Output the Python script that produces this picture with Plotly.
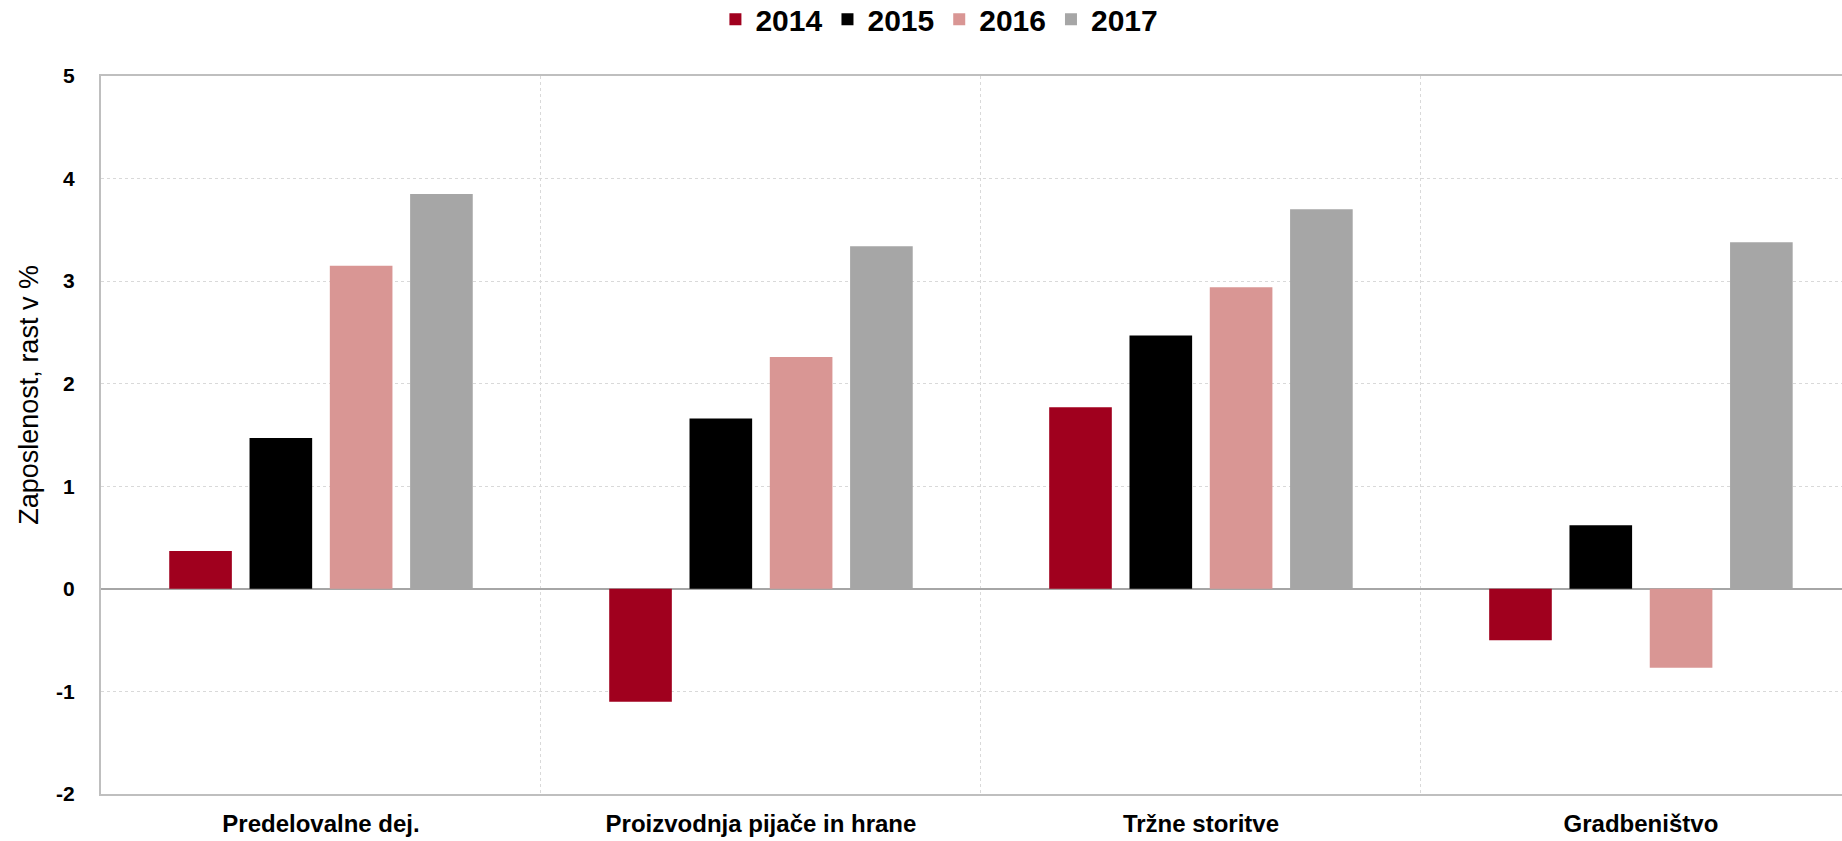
import plotly.graph_objects as go

categories = ["Predelovalne dej.", "Proizvodnja pijače in hrane", "Tržne storitve", "Gradbeništvo"]
years = ["2014", "2015", "2016", "2017"]
v2014 = [0.37, -1.10, 1.77, -0.50]
v2015 = [1.47, 1.66, 2.47, 0.62]
v2016 = [3.15, 2.26, 2.94, -0.77]
v2017 = [3.85, 3.34, 3.70, 3.38]
y_ticks = [-2, -1, 0, 1, 2, 3, 4, 5]
y_title = "Zaposlenost, rast v %"

series = [v2014, v2015, v2016, v2017]
colors = ["#A0001E", "#000000", "#D99694", "#A6A6A6"]

fig = go.Figure()
for name, vals, c in zip(years, series, colors):
    fig.add_trace(go.Bar(x=categories, y=vals, name=name, marker=dict(color=c, line=dict(width=0))))

fig.update_layout(
    width=1842, height=841,
    margin=dict(l=101, r=0, t=76, b=47, autoexpand=False),
    paper_bgcolor="white", plot_bgcolor="white",
    barmode="group", bargap=0.27, bargroupgap=0.22,
    font=dict(family="Liberation Sans, Arial", color="#000000"),
    legend=dict(orientation="h", xref="container", yref="container",
                x=0.51, xanchor="center", y=0.977, yanchor="middle",
                font=dict(size=30, family="Liberation Sans, Arial", weight="bold"),
                itemwidth=30, tracegroupgap=0, traceorder="normal",
                bgcolor="rgba(0,0,0,0)"),
    showlegend=True,
    annotations=[dict(text=y_title, textangle=-90, xref="paper", yref="paper",
                      x=-0.0414, y=0.556, xanchor="center", yanchor="middle",
                      showarrow=False, font=dict(size=27, color="#000"))],
)
fig.update_xaxes(
    type="category", tickson="boundaries", range=[-0.5, 3.457], automargin=False,
    showgrid=True, gridcolor="#D9D9D9", griddash="dot", gridwidth=1,
    showline=True, linecolor="#BFBFBF", linewidth=2, mirror=True,
    ticks="", tickfont=dict(size=24, color="#000", weight="bold"),
    ticklabelstandoff=7,
)
fig.update_yaxes(
    range=[-2, 5], tickvals=y_ticks, ticktext=[str(t) for t in y_ticks], automargin=False,
    showgrid=True, gridcolor="#D9D9D9", griddash="dot", gridwidth=1,
    zeroline=True, zerolinecolor="#A6A6A6", zerolinewidth=2,
    showline=True, linecolor="#BFBFBF", linewidth=2, mirror=True,
    ticks="", tickfont=dict(size=21, color="#000", weight="bold"), ticklabelstandoff=20,
)

fig.write_html("out.html", config={"displayModeBar": False},
               post_script="document.body.style.margin='0';document.body.style.overflow='hidden';")
